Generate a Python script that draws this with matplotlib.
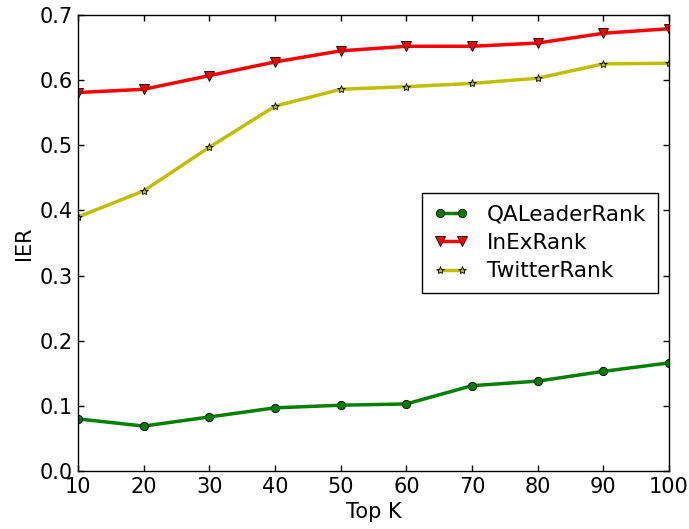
import matplotlib
matplotlib.use("Agg")
import matplotlib.pyplot as plt

top_k = [10, 20, 30, 40, 50, 60, 70, 80, 90, 100]
qaleader = [0.080, 0.069, 0.083, 0.097, 0.101, 0.103, 0.131, 0.138, 0.153, 0.166]
inex = [0.581, 0.586, 0.607, 0.628, 0.645, 0.652, 0.652, 0.657, 0.672, 0.679]
twitter = [0.390, 0.430, 0.497, 0.560, 0.586, 0.590, 0.595, 0.603, 0.625, 0.626]

plt.rcParams["font.family"] = "DejaVu Sans"
plt.rcParams["font.size"] = 15

fig = plt.figure(figsize=(6.89, 5.29), dpi=100)
ax = fig.add_axes([0.1132, 0.1096, 0.8578, 0.862])

ax.plot(top_k, qaleader, color="green", lw=2.5, marker="o", ms=6,
        mec="black", mew=0.6, label="QALeaderRank")
ax.plot(top_k, inex, color="red", lw=2.5, marker="v", ms=7,
        mec="black", mew=0.6, label="InExRank")
ax.plot(top_k, twitter, color="#bfbf00", lw=2.5, marker="*", ms=6,
        mec="black", mew=0.6, label="TwitterRank")

ax.set_xlim(10, 100)
ax.set_ylim(0.0, 0.7)
ax.set_xticks(top_k)
ax.set_yticks([0.0, 0.1, 0.2, 0.3, 0.4, 0.5, 0.6, 0.7])
ax.tick_params(direction="in", top=True, right=True, length=4, width=1, pad=4)
for s in ax.spines.values():
    s.set_linewidth(1.0)
ax.set_xlabel("Top K", labelpad=4)
ax.set_ylabel("IER", labelpad=4)

leg = ax.legend(loc="center right", numpoints=2, fancybox=False,
                borderaxespad=0.5, handlelength=1.65, handletextpad=0.85,
                labelspacing=0.38, borderpad=0.55, framealpha=1,
                fontsize=15.5)
leg.get_frame().set_edgecolor("black")
leg.get_frame().set_linewidth(1.0)

plt.savefig("out.png", dpi=100)
